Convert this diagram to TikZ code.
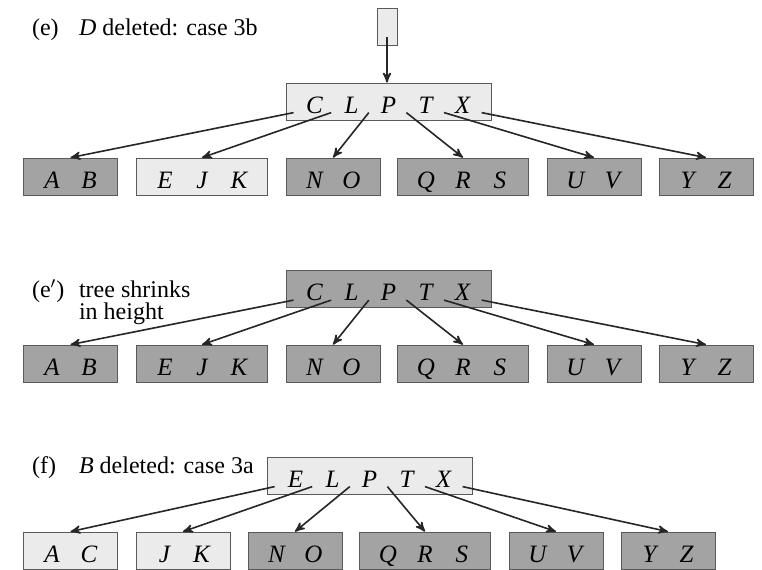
\documentclass[tikz,border=0pt]{standalone}
\usepackage{fontspec}
\setmainfont{Liberation Serif}
\usetikzlibrary{arrows,calc}

\tikzset{
  bnode/.style={draw=black!65, inner xsep=5pt, inner ysep=0pt, minimum height=18.5pt,
    text height=15pt, text depth=3.5pt, font=\fontsize{12.5}{13}\selectfont\itshape},
  lightnode/.style={bnode, fill=black!8},
  darknode/.style={bnode, fill=black!36},
  ptr/.style={->, >=stealth', line width=0.8pt, black!85},
  caption/.style={anchor=base west, font=\fontsize{12}{13}\selectfont},
}
% one key slot inside a page
\newcommand{\kk}[1]{\makebox[18.5pt]{#1}}

\begin{document}
\begin{tikzpicture}[x=0.5pt,y=-0.5pt]
  \useasboundingbox (0,0) rectangle (762,569);

  % (e) D deleted, case 3b
  \node[caption] (etitle) at (25,35) {\makebox[23.5pt][l]{(e)}\textit{D} deleted: case 3b};
  \node[lightnode, minimum width=10pt, text height=0pt, text depth=0pt] (etop) at (387,26.5) {};
  \coordinate (etail) at (387,37);
  \node[lightnode] (eroot) at (388.5,101.5) {\kk{C}\kk{L}\kk{P}\kk{T}\kk{X}};
  \draw[ptr] (etail) -- (etail |- eroot.north);
  \foreach \j in {0,...,5}
    \coordinate (ep\j) at ($(eroot.north west)+(8+37.6*\j,30)$);
  \foreach \j/\x/\ks/\sty in {0/70.5/{\kk{A}\kk{B}}/darknode,
                              1/202/{\kk{E}\kk{J}\kk{K}}/lightnode,
                              2/333/{\kk{N}\kk{O}}/darknode,
                              3/463/{\kk{Q}\kk{R}\kk{S}}/darknode,
                              4/594/{\kk{U}\kk{V}}/darknode,
                              5/706/{\kk{Y}\kk{Z}}/darknode}{
    \node[\sty] (ec\j) at (\x,176.5) {\ks};
    \draw[ptr] (ep\j) -- (ec\j.north);
  }

  % (e') root merged away
  \node[caption] (eptag) at (25,297) {(e$'$)};
  \node[caption] (eptitle) at (72,297) {tree shrinks};
  \node[caption] (epsub) at (72,319) {in height};
  \node[darknode] (eproot) at (388.5,289) {\kk{C}\kk{L}\kk{P}\kk{T}\kk{X}};
  \foreach \j in {0,...,5}
    \coordinate (epp\j) at ($(eproot.north west)+(8+37.6*\j,30)$);
  \foreach \j/\x/\ks in {0/70.5/{\kk{A}\kk{B}},
                         1/202/{\kk{E}\kk{J}\kk{K}},
                         2/333/{\kk{N}\kk{O}},
                         3/463/{\kk{Q}\kk{R}\kk{S}},
                         4/594/{\kk{U}\kk{V}},
                         5/706/{\kk{Y}\kk{Z}}}{
    \node[darknode] (epc\j) at (\x,363.5) {\ks};
    \draw[ptr] (epp\j) -- (epc\j.north);
  }

  % (f) B deleted, case 3a
  \node[caption] (ftitle) at (25,473) {\makebox[23.5pt][l]{(f)}\textit{B} deleted: case 3a};
  \node[lightnode] (froot) at (369.5,475.5) {\kk{E}\kk{L}\kk{P}\kk{T}\kk{X}};
  \foreach \j in {0,...,5}
    \coordinate (fp\j) at ($(froot.north west)+(8+37.6*\j,30)$);
  \foreach \j/\x/\ks/\sty in {0/70.5/{\kk{A}\kk{C}}/lightnode,
                              1/183/{\kk{J}\kk{K}}/lightnode,
                              2/295/{\kk{N}\kk{O}}/darknode,
                              3/425/{\kk{Q}\kk{R}\kk{S}}/darknode,
                              4/556/{\kk{U}\kk{V}}/darknode,
                              5/668/{\kk{Y}\kk{Z}}/darknode}{
    \node[\sty] (fc\j) at (\x,550.5) {\ks};
    \draw[ptr] (fp\j) -- (fc\j.north);
  }
\end{tikzpicture}
\end{document}
